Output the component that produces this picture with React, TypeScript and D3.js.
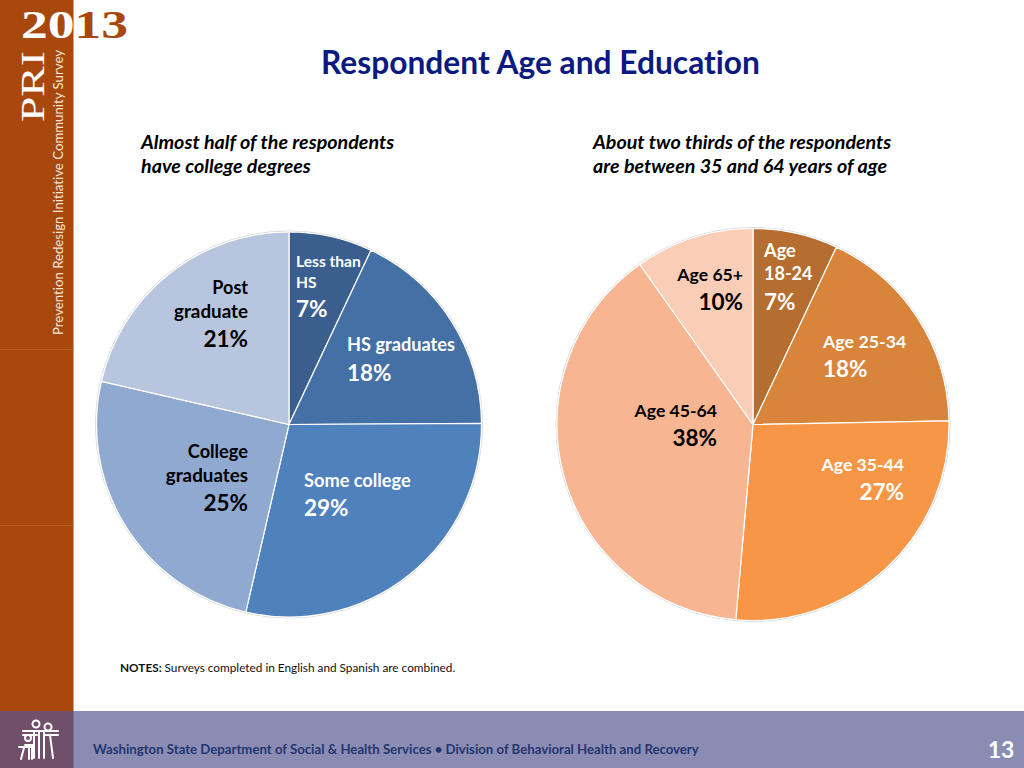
import React from "react";
import * as d3 from "d3";

const eduCategories = ["Less than HS", "HS graduates", "Some college", "College graduates", "Post graduate"];
const eduValues = [7, 17.9, 28.7, 25, 21.4];
const eduColors = ["#3a5f8f", "#4470a6", "#4f81bd", "#8fa9d0", "#b8c5de"];
const ageCategories = ["Age 18-24", "Age 25-34", "Age 35-44", "Age 45-64", "Age 65+"];
const ageValues = [7, 17.7, 26.7, 38.8, 9.8];
const ageColors = ["#b56e30", "#d8843a", "#f79646", "#f7b592", "#facdb6"];

const FONT = "Lato, 'Open Sans', sans-serif";

type L = { x: number; y: number; t: string; s: number; c: string; a?: string };
const eduLabels: L[] = [
  { x: 296, y: 267, t: "Less than", s: 15.6, c: "#fff" },
  { x: 296, y: 288, t: "HS", s: 15.6, c: "#fff" },
  { x: 296, y: 317, t: "7%", s: 22.5, c: "#fff" },
  { x: 347, y: 351, t: "HS graduates", s: 18.2, c: "#fff" },
  { x: 347, y: 381, t: "18%", s: 22.5, c: "#fff" },
  { x: 304, y: 487, t: "Some college", s: 18.2, c: "#fff" },
  { x: 304, y: 516, t: "29%", s: 22.5, c: "#fff" },
  { x: 248, y: 458, t: "College", s: 18.2, c: "#000", a: "end" },
  { x: 248, y: 482, t: "graduates", s: 18.8, c: "#000", a: "end" },
  { x: 248, y: 511, t: "25%", s: 22.5, c: "#000", a: "end" },
  { x: 248, y: 294, t: "Post", s: 18, c: "#000", a: "end" },
  { x: 248, y: 318, t: "graduate", s: 18.8, c: "#000", a: "end" },
  { x: 248, y: 347, t: "21%", s: 22.5, c: "#000", a: "end" },
];
const ageLabels: L[] = [
  { x: 764, y: 257, t: "Age", s: 18.2, c: "#fff" },
  { x: 764, y: 280, t: "18-24", s: 18, c: "#fff" },
  { x: 764, y: 310, t: "7%", s: 22.5, c: "#fff" },
  { x: 823, y: 348, t: "Age 25-34", s: 17.8, c: "#fff" },
  { x: 823, y: 377, t: "18%", s: 22.5, c: "#fff" },
  { x: 904, y: 471, t: "Age 35-44", s: 17.6, c: "#fff", a: "end" },
  { x: 904, y: 500, t: "27%", s: 22.5, c: "#fff", a: "end" },
  { x: 717, y: 417, t: "Age 45-64", s: 17.6, c: "#000", a: "end" },
  { x: 717, y: 446, t: "38%", s: 22.5, c: "#000", a: "end" },
  { x: 743, y: 281, t: "Age 65+", s: 17.6, c: "#000", a: "end" },
  { x: 743, y: 310, t: "10%", s: 22.5, c: "#000", a: "end" },
];

function Pie({ cx, cy, r, values, colors, labels }: { cx: number; cy: number; r: number; values: number[]; colors: string[]; labels: L[] }) {
  const arcs = d3.pie<number>().sort(null)(values);
  const arc = d3.arc<d3.PieArcDatum<number>>().innerRadius(0).outerRadius(r);
  return (
    <g>
      <circle cx={cx} cy={cy} r={r + 1} fill="none" stroke="#d9d9d9" strokeWidth={1} />
      <g transform={`translate(${cx},${cy})`}>
        {arcs.map((a, i) => (
          <path key={i} d={arc(a) || ""} fill={colors[i]} stroke="#ffffff" strokeWidth={1.2} />
        ))}
      </g>
      {labels.map((l, i) => (
        <text key={i} x={l.x} y={l.y} fontSize={l.s} fontWeight={700} fill={l.c} textAnchor={(l.a || "start") as any}>{l.t}</text>
      ))}
    </g>
  );
}

export default function App() {
  return (
    <svg width={1024} height={768} style={{ position: "fixed", left: 0, top: 0, fontVariantLigatures: "none" }} fontFamily={FONT}>
      <rect width={1024} height={768} fill="#fff" />
      <rect x={0} y={0} width={73.5} height={711} fill="#a9480c" />
      <rect x={0} y={349} width={73.5} height={1} fill="#b65a22" />
      <rect x={0} y={525} width={73.5} height={1} fill="#b65a22" />
      <rect x={0} y={711} width={1024} height={57} fill="#8b8cb4" />
      <rect x={0} y={711} width={73.5} height={57} fill="#6f4f69" />

      <g fontFamily="'Liberation Serif', 'DejaVu Serif', serif" fontWeight={700}>
        <text x={21} y={38} fontSize={40} fill="#a9480c" textLength={107} lengthAdjust="spacingAndGlyphs">2013</text>
        <clipPath id="side"><rect x={0} y={0} width={73.5} height={60} /></clipPath>
        <text x={21} y={38} fontSize={40} fill="#fff" textLength={107} lengthAdjust="spacingAndGlyphs" clipPath="url(#side)">2013</text>
        <text transform="translate(44,122) rotate(-90)" fontSize={33} fill="#fff" textLength={71} lengthAdjust="spacingAndGlyphs" fontWeight={400}>PRI</text>
      </g>
      <text transform="translate(63,335) rotate(-90)" fontSize={14.2} fill="#f5e6da" textLength={285} lengthAdjust="spacingAndGlyphs">Prevention Redesign Initiative Community Survey</text>

      <text x={540.5} y={74} textAnchor="middle" fontSize={31.5} fontWeight={700} fill="#0a1a80" textLength={439} lengthAdjust="spacingAndGlyphs">Respondent Age and Education</text>

      <g fontSize={19.7} fontWeight={700} fontStyle="italic" fill="#000">
        <text x={141} y={149}>Almost half of the respondents</text>
        <text x={141} y={173}>have college degrees</text>
        <text x={593} y={149}>About two thirds of the respondents</text>
        <text x={593} y={173}>are between 35 and 64 years of age</text>
      </g>

      <Pie cx={289} cy={424.5} r={192.5} values={eduValues} colors={eduColors} labels={eduLabels} />
      <Pie cx={753} cy={424.5} r={196} values={ageValues} colors={ageColors} labels={ageLabels} />

      <text x={120} y={672} fontSize={11.8} fill="#111">
        <tspan fontWeight={700}>NOTES: </tspan>Surveys completed in English and Spanish are combined.
      </text>

      <text x={93} y={754} fontSize={13.2} fontWeight={700} fill="#26366e">Washington State Department of Social &amp; Health Services • Division of Behavioral Health and Recovery</text>
      <text x={1001} y={758} textAnchor="middle" fontSize={23} fontWeight={700} fill="#ffffff">13</text>

      <g stroke="#fff" strokeWidth={2} fill="none" strokeLinecap="round">
        <circle cx={36} cy={724} r={3.5} />
        <circle cx={48} cy={727} r={3.5} />
        <circle cx={28} cy={738} r={3} />
        <path d="M23 731 H58 M23 735 H37 M44 735 H58" />
        <path d="M34 731 V758 M39 731 V758 M44 731 V758 M50 735 L53 758 M25 745 H33 M19 747 H33 M24 748 L21 759 M29 748 V759 M32 748 V759" />
      </g>
    </svg>
  );
}
